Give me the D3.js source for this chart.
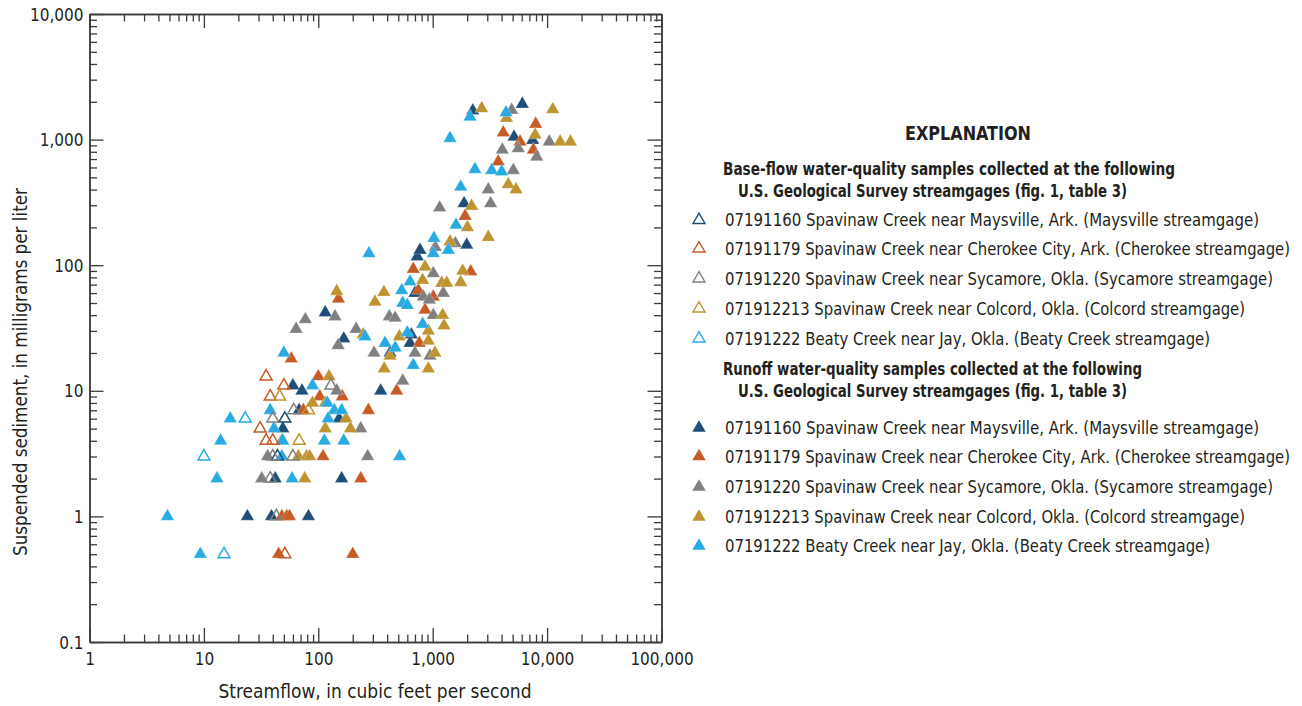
<!DOCTYPE html>
<html>
<head>
<meta charset="utf-8">
<script src="https://cdn.jsdelivr.net/npm/d3@7/dist/d3.min.js"></script>
<style>
  html, body { margin: 0; padding: 0; background: #fff; }
  svg { display: block; }
  text { font-family: "Liberation Sans Narrow", "DejaVu Sans Condensed", "DejaVu Sans", sans-serif; font-stretch: condensed; fill: #231f20; }
</style>
</head>
<body>
<svg id="chart" width="1302" height="706"></svg>
<script>
// Streamflow (ft3/s) and suspended sediment (mg/L) pairs, one array per streamgage and sample type.
const maysvilleBase = [[51, 6], [44, 3]];
const cherokeeBase = [[35, 13], [50, 11], [38, 9], [31, 5], [35, 4], [40, 4], [51, 0.5]];
const sycamoreBase = [[129, 11], [61, 7], [40, 6], [40, 3], [60, 3], [38, 2], [43, 1]];
const colcordBase = [[46, 9], [82, 7], [68, 4]];
const beatyBase = [[23, 6], [10, 3], [15, 0.5]];

const maysvilleRunoff = [[60, 11], [72, 10], [68, 7], [49, 5], [152, 6], [42, 2], [160, 2], [24, 1], [39, 1], [82, 1],
  [167, 26], [115, 42], [351, 10], [424, 20], [650, 28], [634, 24], [700, 60], [733, 117], [774, 132], [1983, 145],
  [1880, 310], [2240, 1700], [6070, 1920], [5140, 1050], [7480, 990]];
const cherokeeRunoff = [[58, 18], [100, 13], [162, 9], [103, 9], [74, 7], [110, 3], [235, 2], [48, 1], [53, 1], [56, 1],
  [45, 0.5], [200, 0.5], [150, 54], [274, 7], [484, 10], [676, 93], [749, 63], [1012, 56], [857, 44], [764, 24],
  [2150, 89], [1920, 246], [3740, 667], [4140, 1135], [5800, 960], [7580, 830], [7950, 1330]];
const sycamoreRunoff = [[145, 10], [36, 3], [32, 2], [48, 4], [149, 23], [140, 39], [64, 31], [77, 37], [214, 31],
  [307, 20], [418, 39], [469, 38], [547, 12], [235, 5], [270, 3], [828, 56], [934, 53], [1238, 60], [1012, 86],
  [1054, 139], [1578, 149], [1150, 287], [700, 20], [947, 19], [1012, 40], [3060, 400], [3210, 310], [4060, 830],
  [5070, 570], [5600, 850], [8120, 730], [10450, 960], [4900, 1720]];
const colcordRunoff = [[124, 13], [89, 8], [115, 8], [175, 6], [67, 3], [79, 3], [84, 3], [76, 2], [115, 5], [191, 5],
  [145, 62], [375, 61], [313, 51], [247, 28], [511, 27], [424, 19], [377, 15], [857, 97], [817, 76], [1199, 72],
  [1327, 72], [1757, 73], [1830, 90], [1222, 40], [1256, 33], [916, 30], [916, 25], [916, 15], [1047, 20], [1419, 154],
  [2010, 200], [2190, 296], [3062, 167], [4580, 440], [5350, 400], [2680, 1770], [4420, 1480], [11200, 1740],
  [7860, 1090], [13000, 960], [16000, 960]];
const beatyRunoff = [[4.8, 1], [9.3, 0.5], [13, 2], [14, 4], [17, 6], [38, 7], [41, 5], [49, 4], [48, 3], [59, 2],
  [50, 20], [89, 11], [120, 8], [138, 7], [160, 7], [122, 6], [113, 4], [167, 4], [514, 3], [277, 124], [256, 27],
  [383, 24], [600, 29], [470, 22], [676, 16], [817, 34], [634, 74], [536, 63], [547, 50], [600, 48], [1026, 164],
  [1012, 124], [1368, 132], [1600, 209], [1417, 1025], [1757, 420], [2340, 580], [3280, 570], [4010, 555],
  [2120, 1520], [4370, 1640]];

const gageNames = [
  "07191160 Spavinaw Creek near Maysville, Ark. (Maysville streamgage)",
  "07191179 Spavinaw Creek near Cherokee City, Ark. (Cherokee streamgage)",
  "07191220 Spavinaw Creek near Sycamore, Okla. (Sycamore streamgage)",
  "071912213 Spavinaw Creek near Colcord, Okla. (Colcord streamgage)",
  "07191222 Beaty Creek near Jay, Okla. (Beaty Creek streamgage)"
];
const gageColors = ["#1f4e79", "#c75b26", "#808080", "#bf9430", "#29abe2"];

const xMajor = [1, 10, 100, 1000, 10000, 100000];
const yMajor = [0.1, 1, 10, 100, 1000, 10000];
const xTickLabels = ["1", "10", "100", "1,000", "10,000", "100,000"];
const yTickLabels = ["0.1", "1", "10", "100", "1,000", "10,000"];

const svg = d3.select("#chart");
const plotLeft = 89.5, plotRight = 661.5, plotTop = 14, plotBottom = 642;

const x = d3.scaleLog().domain([1, 100000]).range([plotLeft, plotRight]);
const y = d3.scaleLog().domain([0.1, 10000]).range([plotBottom, plotTop]);

function minors(lo, hi) {
  const out = [];
  for (let p = lo; p < hi; p *= 10) for (let k = 2; k <= 9; k++) out.push(p * k);
  return out;
}
const xMinor = minors(1, 100000);
const yMinor = minors(0.1, 10000);

const axisColor = "#3a3a3a";
const majorLen = 14, minorLen = 7.5;

function drawAxis(axisGen, tx, ty) {
  const g = svg.append("g").attr("transform", `translate(${tx},${ty})`).call(axisGen);
  g.selectAll("text").remove();
  return g;
}

// Minor ticks (inward) on all four sides
drawAxis(d3.axisBottom(x).tickValues(xMinor).tickSize(-minorLen).tickSizeOuter(0), 0, plotBottom);
drawAxis(d3.axisTop(x).tickValues(xMinor).tickSize(-minorLen).tickSizeOuter(0), 0, plotTop);
drawAxis(d3.axisLeft(y).tickValues(yMinor).tickSize(-minorLen).tickSizeOuter(0), plotLeft, 0);
drawAxis(d3.axisRight(y).tickValues(yMinor).tickSize(-minorLen).tickSizeOuter(0), plotRight, 0);

// Major ticks with labels on bottom and left
const xAxisG = svg.append("g").attr("transform", `translate(0,${plotBottom})`)
  .call(d3.axisBottom(x).tickValues(xMajor).tickSize(-majorLen).tickSizeOuter(0).tickPadding(12)
    .tickFormat((d, i) => xTickLabels[i]));
const yAxisG = svg.append("g").attr("transform", `translate(${plotLeft},0)`)
  .call(d3.axisLeft(y).tickValues(yMajor).tickSize(-majorLen).tickSizeOuter(0).tickPadding(6)
    .tickFormat((d, i) => yTickLabels[i]));
svg.append("g").attr("transform", `translate(0,${plotTop})`)
  .call(d3.axisTop(x).tickValues(xMajor).tickSize(-majorLen).tickSizeOuter(0).tickFormat(""));
svg.append("g").attr("transform", `translate(${plotRight},0)`)
  .call(d3.axisRight(y).tickValues(yMajor).tickSize(-majorLen).tickSizeOuter(0).tickFormat(""));

svg.selectAll(".domain").attr("stroke", axisColor).attr("stroke-width", 1.4);
svg.selectAll(".tick line").attr("stroke", axisColor).attr("stroke-width", 1.3);
svg.selectAll(".tick text").style("font-size", "17px").attr("fill", "#231f20")
  .style("font-family", '"Liberation Sans Narrow", "DejaVu Sans Condensed", "DejaVu Sans", sans-serif')
  .style("font-stretch", "condensed");
xAxisG.selectAll(".tick text").attr("dy", "0.62em");
yAxisG.selectAll(".tick text").attr("dy", "0.36em");

// Axis titles
svg.append("text").attr("x", 375).attr("y", 698).attr("text-anchor", "middle")
  .style("font-size", "19px").attr("textLength", 313).attr("lengthAdjust", "spacingAndGlyphs")
  .text("Streamflow, in cubic feet per second");
svg.append("text").attr("transform", "translate(27,372) rotate(-90)").attr("text-anchor", "middle")
  .style("font-size", "19px").attr("textLength", 368).attr("lengthAdjust", "spacingAndGlyphs")
  .text("Suspended sediment, in milligrams per liter");

// Triangle markers
const tri = d3.symbol(d3.symbolTriangle, 78)();
const triOpen = d3.symbol(d3.symbolTriangle, 62)();
const plot = svg.append("g");

const runoffSeries = [maysvilleRunoff, cherokeeRunoff, sycamoreRunoff, colcordRunoff, beatyRunoff];
const baseSeries = [maysvilleBase, cherokeeBase, sycamoreBase, colcordBase, beatyBase];

runoffSeries.forEach((pts, i) => {
  plot.append("g").selectAll("path").data(pts).join("path")
    .attr("d", tri)
    .attr("transform", d => `translate(${x(d[0])},${y(d[1])})`)
    .attr("fill", gageColors[i])
    .attr("stroke", "#fff").attr("stroke-width", 0.4).attr("stroke-opacity", 0.6);
});
baseSeries.forEach((pts, i) => {
  plot.append("g").selectAll("path").data(pts).join("path")
    .attr("d", triOpen)
    .attr("transform", d => `translate(${x(d[0])},${y(d[1])})`)
    .attr("fill", "none")
    .attr("stroke", gageColors[i]).attr("stroke-width", 1.5);
});

// Explanation
const legend = svg.append("g");
legend.append("text").attr("x", 968).attr("y", 140).attr("text-anchor", "middle")
  .style("font-size", "19px").style("font-weight", "bold")
  .attr("textLength", 126).attr("lengthAdjust", "spacingAndGlyphs").text("EXPLANATION");

function header(yTop, text, width) {
  legend.append("text").attr("x", 723).attr("y", yTop).style("font-size", "17px").style("font-weight", "bold")
    .attr("textLength", width).attr("lengthAdjust", "spacingAndGlyphs").text(text);
  legend.append("text").attr("x", 738).attr("y", yTop + 22).style("font-size", "17px").style("font-weight", "bold")
    .attr("textLength", 389).attr("lengthAdjust", "spacingAndGlyphs")
    .text("U.S. Geological Survey streamgages (fig. 1, table 3)");
}
header(175, "Base-flow water-quality samples collected at the following", 452);
header(375, "Runoff water-quality samples collected at the following", 419);

const itemWidths = [534, 565, 548, 520, 485];
const baseRows = [220, 248.5, 278.5, 308.5, 338.5];
const runoffRows = [428, 456.5, 487, 517, 546];

function items(rows, open) {
  rows.forEach((ry, i) => {
    legend.append("path").attr("d", open ? triOpen : tri)
      .attr("transform", `translate(699,${ry})`)
      .attr("fill", open ? "none" : gageColors[i])
      .attr("stroke", open ? gageColors[i] : "none")
      .attr("stroke-width", open ? 1.4 : 0);
    legend.append("text").attr("x", 725).attr("y", ry + 6).style("font-size", "17px")
      .attr("textLength", itemWidths[i]).attr("lengthAdjust", "spacingAndGlyphs").text(gageNames[i]);
  });
}
items(baseRows, true);
items(runoffRows, false);
</script>
</body>
</html>
